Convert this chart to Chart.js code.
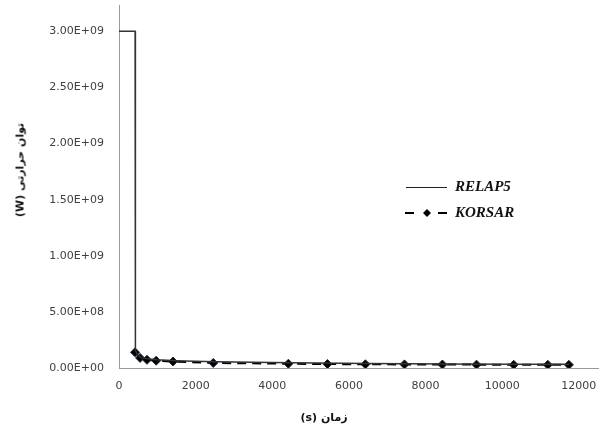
<!DOCTYPE html>
<html>
<head>
<meta charset="utf-8">
<script src="https://cdn.jsdelivr.net/npm/chart.js@4/dist/chart.umd.min.js"></script>
<style>
  html, body { margin: 0; padding: 0; background: #fff; }
  #wrap { position: relative; width: 605px; height: 429px; }
  .axis-title {
    position: absolute;
    font-family: "DejaVu Sans", sans-serif;
    font-size: 11px;
    font-weight: bold;
    color: #111;
    white-space: nowrap;
    direction: rtl;
  }
  #xTitle { left: 324px; top: 417px; transform: translate(-50%, -50%); }
  #yTitle { left: 20px; top: 170px; transform: translate(-50%, -50%) rotate(-90deg); }
</style>
</head>
<body>
<div id="wrap">
  <canvas id="chart" width="605" height="429"></canvas>
  <div id="xTitle" class="axis-title"></div>
  <div id="yTitle" class="axis-title"></div>
</div>
<script>
// RELAP5 (line) : time (s) / power (W)
const relapTime  = [0, 420, 425, 432, 480, 600, 800, 1000, 1500, 2500, 4500, 6500, 8500, 10500, 11750];
const relapPower = [3.0e9, 3.0e9, 8.0e8, 1.6e8, 1.15e8, 9.0e7, 8.0e7, 7.3e7, 6.5e7, 5.6e7, 4.6e7, 4.0e7, 3.6e7, 3.4e7, 3.3e7];

// KORSAR (dashed + diamonds)
const korsarTime  = [418, 550, 730, 970, 1410, 2460, 4420, 5440, 6430, 7450, 8440, 9330, 10300, 11190, 11740];
const korsarPower = [1.4e8, 9.0e7, 7.3e7, 6.5e7, 5.8e7, 4.5e7, 3.8e7, 3.5e7, 3.3e7, 3.2e7, 3.1e7, 3.0e7, 2.9e7, 2.8e7, 2.8e7];

const xTicks = [0, 2000, 4000, 6000, 8000, 10000, 12000];
const yTicks = [0, 5e8, 1e9, 1.5e9, 2e9, 2.5e9, 3e9];

const seriesNames = ['RELAP5', 'KORSAR'];
const xTitle = 'زمان  (s)';
const yTitle = 'توان حرارتی (W)';

document.getElementById('xTitle').textContent = xTitle;
document.getElementById('yTitle').textContent = yTitle;

function sci(v) {
  if (v === 0) return '0.00E+00';
  const e = Math.floor(Math.log10(Math.abs(v)) + 1e-9);
  const m = v / Math.pow(10, e);
  return m.toFixed(2) + 'E' + (e >= 0 ? '+' : '-') + String(Math.abs(e)).padStart(2, '0');
}

const toXY = (xs, ys) => xs.map((x, i) => ({ x: x, y: ys[i] }));

// legend drawn inside the plot, like the original
const legendPlugin = {
  id: 'innerLegend',
  afterDraw(chart) {
    const ctx = chart.ctx;
    ctx.save();
    ctx.font = 'italic bold 15px "Liberation Serif"';
    ctx.textBaseline = 'middle';
    // RELAP5
    ctx.strokeStyle = '#222';
    ctx.lineWidth = 1;
    ctx.beginPath(); ctx.moveTo(406, 187.5); ctx.lineTo(447, 187.5); ctx.stroke();
    ctx.fillStyle = '#111';
    ctx.fillText(seriesNames[0], 455, 187);
    // KORSAR
    ctx.lineWidth = 2;
    ctx.strokeStyle = '#000';
    ctx.beginPath(); ctx.moveTo(405, 213); ctx.lineTo(414, 213); ctx.stroke();
    ctx.beginPath(); ctx.moveTo(438, 213); ctx.lineTo(447, 213); ctx.stroke();
    ctx.fillStyle = '#000';
    ctx.beginPath();
    ctx.moveTo(427, 209); ctx.lineTo(431, 213); ctx.lineTo(427, 217); ctx.lineTo(423, 213);
    ctx.closePath(); ctx.fill();
    ctx.fillStyle = '#111';
    ctx.fillText(seriesNames[1], 455, 213);
    ctx.restore();
  }
};

new Chart(document.getElementById('chart'), {
  type: 'scatter',
  data: {
    datasets: [
      {
        label: seriesNames[0],
        data: toXY(relapTime, relapPower),
        showLine: true,
        borderColor: '#333',
        borderWidth: 1.5,
        pointRadius: 0,
        tension: 0
      },
      {
        label: seriesNames[1],
        data: toXY(korsarTime, korsarPower),
        showLine: true,
        borderColor: '#000',
        borderWidth: 2,
        borderDash: [9, 6],
        pointStyle: 'rectRot',
        pointRadius: 4.5,
        pointBackgroundColor: '#000',
        pointBorderColor: '#1a2a3a',
        pointBorderWidth: 1,
        tension: 0
      }
    ]
  },
  options: {
    responsive: false,
    animation: false,
    layout: { padding: { top: 5, right: 7, left: 0, bottom: 0 } },
    plugins: {
      legend: { display: false },
      tooltip: { enabled: false }
    },
    scales: {
      x: {
        type: 'linear',
        min: 0,
        max: 12500,
        afterBuildTicks: s => { s.ticks = xTicks.map(v => ({ value: v })); },
        afterFit: s => { s.height = 61; s.paddingLeft = 0; s.paddingRight = 0; },
        grid: { display: false, drawTicks: false },
        border: { display: true, color: '#999', width: 1 },
        ticks: {
          padding: 12,
          color: '#404040',
          font: { family: 'DejaVu Sans', size: 11 },
          maxRotation: 0,
          callback: v => String(v)
        }
      },
      y: {
        type: 'linear',
        min: 0,
        max: 3.23e9,
        afterBuildTicks: s => { s.ticks = yTicks.map(v => ({ value: v })); },
        afterFit: s => { s.width = 119; s.paddingTop = 0; s.paddingBottom = 0; },
        grid: { display: false, drawTicks: false },
        border: { display: true, color: '#999', width: 1 },
        ticks: {
          padding: 15,
          color: '#404040',
          font: { family: 'DejaVu Sans', size: 11 },
          callback: v => sci(v)
        }
      }
    }
  },
  plugins: [legendPlugin]
});
</script>
</body>
</html>
